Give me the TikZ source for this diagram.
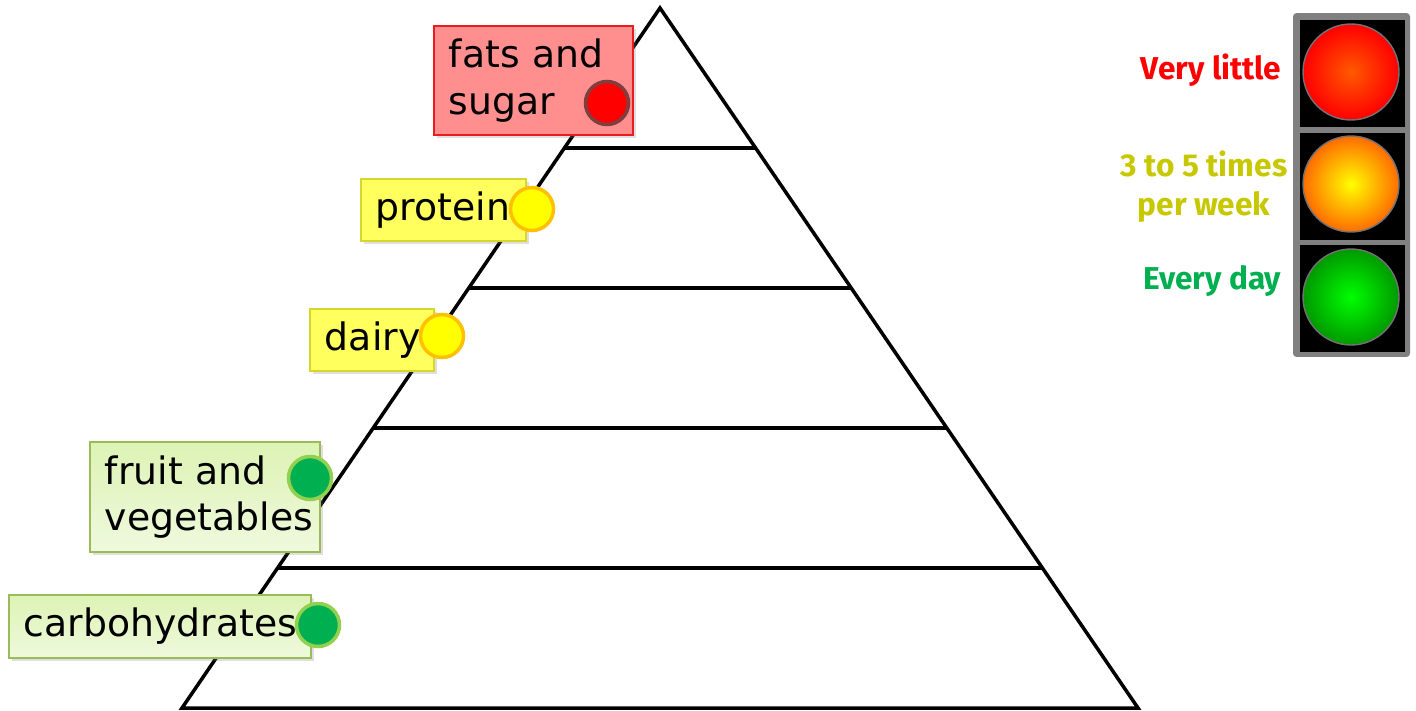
\documentclass[tikz,border=0pt]{standalone}
\usepackage{fontspec}
\setmainfont{DejaVu Sans}
\newfontfamily\keyfont{Fira Sans}
\usepackage{xcolor}
\usepackage{tikz}
\usetikzlibrary{positioning, calc, shadows}

\definecolor{fatsfill}{HTML}{FF8F8F}
\definecolor{fatsline}{HTML}{E81E1E}
\definecolor{protfill}{HTML}{FFFF5E}
\definecolor{protline}{HTML}{D6D62E}
\definecolor{vegfill}{HTML}{E4F5C6}
\definecolor{vegtop}{HTML}{DDF3B4}
\definecolor{vegbottom}{HTML}{EFF9DD}
\definecolor{vegline}{HTML}{9BBB59}
\definecolor{dotred}{HTML}{FF0000}
\definecolor{dotredline}{HTML}{7F3F3F}
\definecolor{dotyellow}{HTML}{FFFF00}
\definecolor{dotyellowline}{HTML}{FFC000}
\definecolor{dotgreen}{HTML}{00B050}
\definecolor{dotgreenline}{HTML}{92D050}
\definecolor{keyred}{HTML}{FF0000}
\definecolor{keyamber}{HTML}{C8C800}
\definecolor{keygreen}{HTML}{00B050}

\begin{document}
\begin{tikzpicture}[
        x=0.02cm, y=-0.02cm,
        food/.style={
            rectangle,
            draw=#1line,
            fill=#1fill,
            line width=1pt,
            anchor=north west,
            align=left,
            inner xsep=0.3cm,
            inner ysep=0pt,
            font=\fontsize{21.5}{26.5}\selectfont,
            drop shadow={opacity=0.25, shadow xshift=2pt, shadow yshift=-2pt}
        },
        vegbox/.style={
            food=veg,
            top color=vegtop,
            bottom color=vegbottom
        },
        dot/.style={
            circle,
            draw=#1line,
            fill=#1,
            line width=2pt,
            minimum size=0.86cm,
            inner sep=0pt
        },
        housing/.style={
            rectangle,
            fill=black!50,
            rounded corners=2pt,
            minimum width=2.34cm,
            minimum height=6.88cm
        },
        cell/.style={
            rectangle,
            fill=black,
            minimum width=2.1cm,
            minimum height=2.14cm
        },
        lamp/.style 2 args={
            circle,
            draw=black!55,
            thick,
            inner color=#1,
            outer color=#2,
            minimum size=1.92cm
        },
        key/.style={
            font=\keyfont\bfseries\fontsize{18}{22}\selectfont,
            align=center,
            inner sep=0pt
        }
    ]
        \useasboundingbox (0,0) rectangle (1416,710);

        % Pyramid
        \coordinate (apex) at (660,8);
        \coordinate (bl) at (182,708);
        \coordinate (br) at (1138,708);
        \draw [line width=2pt, line join=miter] (apex) -- (bl) -- (br) -- cycle;
        \foreach \t in {0.2,0.4,0.6,0.8}
            \draw [line width=2pt] ($(apex)!\t!(bl)$) -- ($(apex)!\t!(br)$);

        % Food groups
        \node [food=fats, text width=3.38cm, minimum height=2.18cm] (fats) at (433,25) {fats and\\sugar};
        \node [food=prot, text width=2.7cm, minimum height=1.24cm] (protein) at (360,178) {protein};
        \node [food=prot, text width=1.88cm, minimum height=1.24cm] (dairy) at (309,308) {dairy};
        \node [vegbox, text width=4cm, minimum height=2.2cm] (fruit) at (89,441) {fruit and\\vegetables};
        \node [vegbox, text width=5.44cm, minimum height=1.26cm] (carbs) at (8,594) {carbohydrates};

        \node [dot=dotred] (fatsdot) at (607,103) {};
        \node [dot=dotyellow] (proteindot) at (532,209) {};
        \node [dot=dotyellow] (dairydot) at (442,336) {};
        \node [dot=dotgreen] (fruitdot) at (310,478) {};
        \node [dot=dotgreen] (carbsdot) at (318,625) {};

        % Traffic light
        \node [housing] (light) at (1351.5,185) {};
        \node [cell] (redcell) at (1352.5,73.5) {};
        \node [cell] (ambercell) at (1352.5,186.5) {};
        \node [cell] (greencell) at (1352.5,298.5) {};
        \node [lamp={orange!70!red}{red}] (redlamp) at (1351,72) {};
        \node [lamp={yellow}{orange!85!red}] (amberlamp) at (1351,184) {};
        \node [lamp={green}{green!60!black}] (greenlamp) at (1351,297) {};

        % Key
        \node [key, text=keyred, left=0.36cm of redcell, yshift=0.06cm] (little) {Very little};
        \node [key, text=keyamber, left=0.24cm of ambercell] (weekly) {3 to 5 times\\per week};
        \node [key, text=keygreen, left=0.36cm of greencell, yshift=0.34cm] (daily) {Every day};

    \end{tikzpicture}
\end{document}
